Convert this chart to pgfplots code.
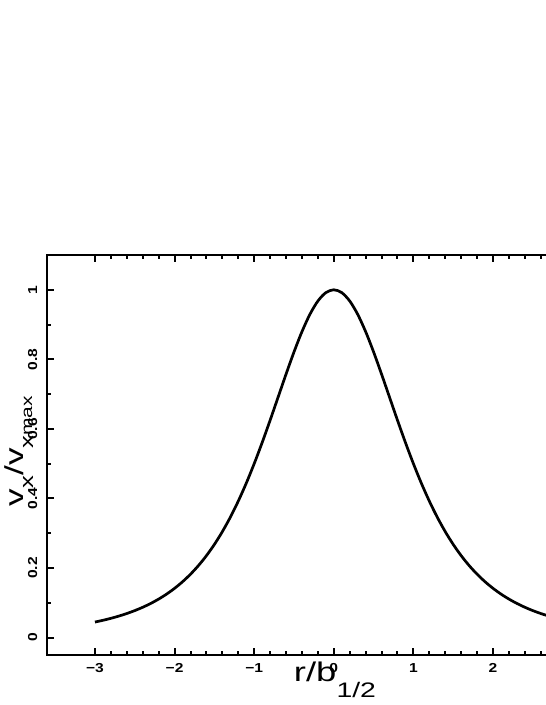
\documentclass[border=0pt]{standalone}
\usepackage{pgfplots}
\pgfplotsset{compat=1.18}
\usepackage{fontspec}
\setmainfont{Liberation Sans}
\newfontfamily\labelfont[FakeStretch=1.35]{Liberation Sans}
\newfontfamily\tickfont[FakeStretch=1.2]{Liberation Sans Bold}
\begin{document}
\begin{tikzpicture}
\begin{axis}[
  scale only axis,
  width=573.2pt, height=400pt,
  xmin=-3.6, xmax=3.6, ymin=-0.05, ymax=1.1,
  xtick={-3,-2,-1,0,1,2,3},
  xticklabels={−3,−2,−1,0,1,2,3},
  minor x tick num=4,
  ytick={0,0.2,0.4,0.6,0.8,1},
  yticklabels={0,0.2,0.4,0.6,0.8,1},
  minor y tick num=1,
  tick align=inside,
  major tick length=7pt, minor tick length=4pt,
  axis line style={line width=2.5pt},
  every tick/.style={line width=2pt, black},
  tick label style={font=\tickfont\fontsize{13}{13}\selectfont},
  xticklabel style={anchor=base},
  xticklabel shift=17pt,
  yticklabel style={rotate=90, anchor=base},
  yticklabel shift=10pt,
  every axis x label/.style={at={(axis description cs:0.502,-0.065)}, anchor=base},
  every axis y label/.style={at={(axis description cs:-0.0417,0.51)}, rotate=90, anchor=base},
  xlabel={\labelfont\fontsize{27}{27}\selectfont r/b\raisebox{-0.6em}{\fontsize{21}{21}\selectfont 1/2}},
  ylabel={\labelfont\fontsize{26}{26}\selectfont v\raisebox{-0.38em}{\fontsize{19}{19}\selectfont x}/v\raisebox{-0.38em}{\fontsize{19}{19}\selectfont x\raisebox{0.05em}{\fontsize{15.5}{15.5}\selectfont max}}},
]
\addplot[black, line width=2.7pt, smooth] coordinates {
(-3.0,0.04474) (-2.9,0.04975) (-2.8,0.05543) (-2.7,0.06189) (-2.6,0.06925)
(-2.5,0.07764) (-2.4,0.08723) (-2.3,0.09820) (-2.2,0.11076) (-2.1,0.12516)
(-2.0,0.14167) (-1.9,0.16060) (-1.8,0.18231) (-1.7,0.20716) (-1.6,0.23556)
(-1.5,0.26792) (-1.4,0.30462) (-1.3,0.34601) (-1.2,0.39236) (-1.1,0.44374)
(-1.0,0.50000) (-0.9,0.56067) (-0.8,0.62482) (-0.7,0.69103) (-0.6,0.75731)
(-0.5,0.82114) (-0.4,0.87956) (-0.3,0.92941) (-0.2,0.96767) (-0.1,0.99177)
(0.0,1.00000)
(0.1,0.99177) (0.2,0.96767) (0.3,0.92941) (0.4,0.87956) (0.5,0.82114)
(0.6,0.75731) (0.7,0.69103) (0.8,0.62482) (0.9,0.56067) (1.0,0.50000)
(1.1,0.44374) (1.2,0.39236) (1.3,0.34601) (1.4,0.30462) (1.5,0.26792)
(1.6,0.23556) (1.7,0.20716) (1.8,0.18231) (1.9,0.16060) (2.0,0.14167)
(2.1,0.12516) (2.2,0.11076) (2.3,0.09820) (2.4,0.08723) (2.5,0.07764)
(2.6,0.06925) (2.7,0.06189) (2.8,0.05543) (2.9,0.04975) (3.0,0.04474)
};
\coordinate (bl) at (rel axis cs:-0.08235,-0.125);
\coordinate (tr) at (rel axis cs:0.86846,1.6375);
\end{axis}
\pgfresetboundingbox
\useasboundingbox (bl) rectangle (tr);
\end{tikzpicture}
\end{document}
